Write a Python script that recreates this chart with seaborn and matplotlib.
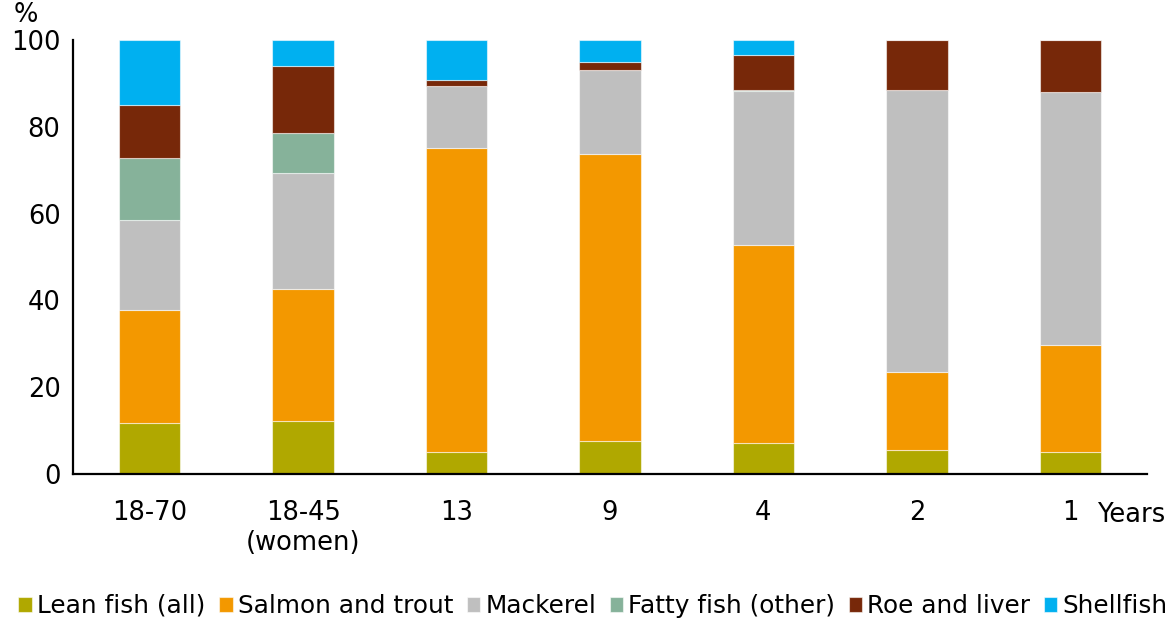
import numpy as np
import pandas as pd
import matplotlib
matplotlib.use("Agg")
import matplotlib.pyplot as plt
import seaborn as sns

# Age groups along the x axis
groups = ["18-70", "18-45\n(women)", "13", "9", "4", "2", "1"]

# Share (%) of fish intake by fish type, one value per age group
lean_fish = [11.7, 12.1, 5.0, 7.6, 7.1, 5.5, 5.0]
salmon_trout = [26.1, 30.5, 70.1, 66.1, 45.7, 18.1, 24.7]
mackerel = [20.7, 26.8, 14.4, 19.5, 35.4, 64.8, 58.4]
fatty_other = [14.2, 9.2, 0.0, 0.0, 0.3, 0.0, 0.0]
roe_liver = [12.4, 15.3, 1.3, 1.8, 8.0, 11.6, 11.9]
shellfish = [14.9, 6.1, 9.2, 5.0, 3.5, 0.0, 0.0]

series_names = ["Lean fish (all)", "Salmon and trout", "Mackerel",
                "Fatty fish (other)", "Roe and liver", "Shellfish"]
series_values = [lean_fish, salmon_trout, mackerel, fatty_other, roe_liver, shellfish]
series_colors = ["#B0A800", "#F39800", "#BFBFBF", "#86B29A", "#772809", "#00B0F0"]

sns.set_style("white")
plt.rcParams["font.family"] = ["DejaVu Sans"]
plt.rcParams["text.color"] = "black"
plt.rcParams["xtick.color"] = "black"
plt.rcParams["ytick.color"] = "black"

fig = plt.figure(figsize=(11.72, 6.2), dpi=100)
ax = fig.add_axes([73 / 1172, 1 - 474 / 620, 1074 / 1172, 434 / 620])

bottom = np.zeros(len(groups))
for name, vals, col in zip(series_names, series_values, series_colors):
    vals = np.asarray(vals, dtype=float)
    df = pd.DataFrame({"group": groups, "value": vals})
    sns.barplot(data=df, x="group", y="value", order=groups, bottom=bottom,
                color=col, saturation=1, width=0.4, ax=ax, label=name,
                edgecolor=(1, 1, 1, 0.55), linewidth=0.8)
    bottom = bottom + vals

if ax.get_legend() is not None:
    ax.get_legend().remove()

ax.set_xlim(-0.5, 6.5)
ax.set_ylim(0, 100)
ax.set_yticks([0, 20, 40, 60, 80, 100])
ax.set_xlabel("")
ax.set_ylabel("")

for side in ["top", "right"]:
    ax.spines[side].set_visible(False)
for side in ["left", "bottom"]:
    ax.spines[side].set_color("black")
    ax.spines[side].set_linewidth(1.6)

ax.tick_params(axis="y", length=0, pad=9, labelsize=18.5, labelcolor="black")
ax.tick_params(axis="x", length=0, pad=19, labelsize=18.5, labelcolor="black")

fig.text(26 / 1172, 1 - 15 / 620, "%", ha="center", va="center", fontsize=18.5, color="black")
fig.text(1131 / 1172, 1 - 515 / 620, "Years", ha="center", va="center", fontsize=18.5, color="black")

handles, labels = ax.get_legend_handles_labels()
leg = fig.legend(handles, labels, loc="center", bbox_to_anchor=(593 / 1172, 1 - 606 / 620),
                 ncol=6, frameon=False, fontsize=17.8, handlelength=0.55, handleheight=0.55,
                 handletextpad=0.2, columnspacing=0.55, borderaxespad=0, borderpad=0)
for t in leg.get_texts():
    t.set_color("black")

fig.savefig("out.png", dpi=100)
